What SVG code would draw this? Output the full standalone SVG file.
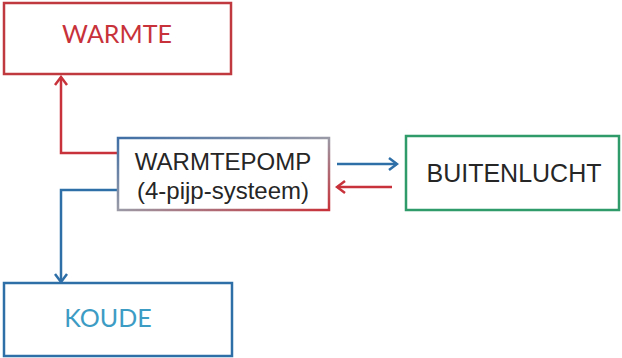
<svg xmlns="http://www.w3.org/2000/svg" width="622" height="358" viewBox="0 0 622 358">
<defs>
<style>
.box{fill:#ffffff;stroke-width:2.5}
.lbl{font-family:"Lato","Liberation Sans",sans-serif;font-size:25px}
.txt{font-family:"Liberation Sans",Arial,sans-serif;fill:#262626}
.red{stroke:#c8323a;fill:none;stroke-width:2.5}
.blue{stroke:#2e6fa8;fill:none;stroke-width:2.5}
</style>
<linearGradient id="pompGrad" x1="0" y1="0" x2="1" y2="1">
<stop offset="0" stop-color="#3f6fa6"/>
<stop offset="0.5" stop-color="#9a9aa6"/>
<stop offset="1" stop-color="#c8323a"/>
</linearGradient>
<marker id="arrRed" markerWidth="12" markerHeight="14" refX="10" refY="7" orient="auto" markerUnits="userSpaceOnUse">
<path d="M2,1 L10,7 L2,13" fill="none" stroke="#c8323a" stroke-width="2.5"/>
</marker>
<marker id="arrBlue" markerWidth="12" markerHeight="14" refX="10" refY="7" orient="auto" markerUnits="userSpaceOnUse">
<path d="M2,1 L10,7 L2,13" fill="none" stroke="#2e6fa8" stroke-width="2.5"/>
</marker>
</defs>
<rect width="622" height="358" fill="#ffffff"/>
<g id="connectors">
<path class="red" d="M118,153 H61 V77" marker-end="url(#arrRed)"/>
<path class="blue" d="M118,190 H61 V282" marker-end="url(#arrBlue)"/>
<path class="blue" d="M337,164 H397" marker-end="url(#arrBlue)"/>
<path class="red" d="M392,187 H337" marker-end="url(#arrRed)"/>
</g>
<g id="warmte">
<rect class="box" x="4" y="3" width="227" height="71" stroke="#c0393f"/>
<text class="lbl" x="117" y="43" text-anchor="middle" fill="#c8323a">WARMTE</text>
</g>
<g id="warmtepomp">
<rect class="box" x="118" y="138" width="211" height="72" stroke="url(#pompGrad)"/>
<text class="txt" x="223" y="170" text-anchor="middle" font-size="24">WARMTEPOMP</text>
<text class="txt" x="223" y="199" text-anchor="middle" font-size="24">(4-pijp-systeem)</text>
</g>
<g id="buitenlucht">
<rect class="box" x="406" y="136" width="213" height="74" stroke="#2f9a6a"/>
<text class="txt" x="514" y="182" text-anchor="middle" font-size="25">BUITENLUCHT</text>
</g>
<g id="koude">
<rect class="box" x="4" y="283" width="228" height="73" stroke="#2e6fa8"/>
<text class="lbl" x="108" y="327" text-anchor="middle" fill="#3d9cc4">KOUDE</text>
</g>
</svg>
